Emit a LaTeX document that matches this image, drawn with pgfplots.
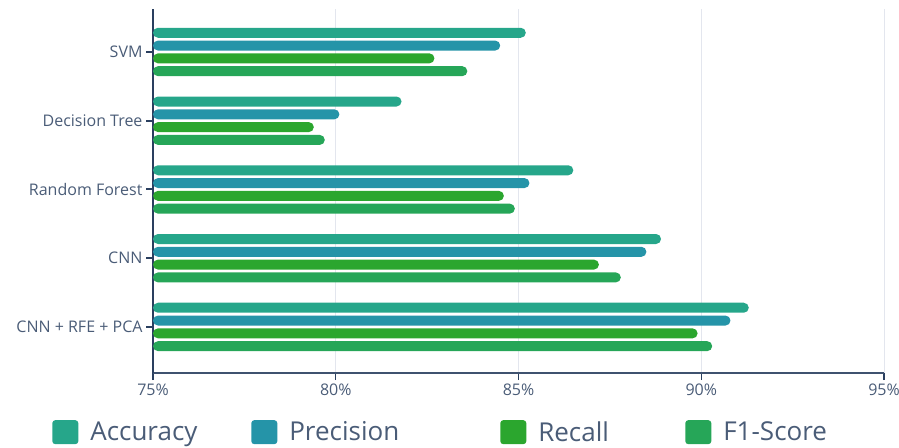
\documentclass[border=0pt]{standalone}
\usepackage{pgfplots}
\pgfplotsset{compat=1.18}
\usepackage{fontspec}
\setmainfont{Open Sans}
\definecolor{acc}{RGB}{38,166,138}
\definecolor{pre}{RGB}{37,148,168}
\definecolor{rec}{RGB}{43,166,46}
\definecolor{fone}{RGB}{38,166,88}
\definecolor{txt}{HTML}{2A3F5F}
\definecolor{gridc}{HTML}{E3E6EE}
\begin{document}
\begin{tikzpicture}
\useasboundingbox (0,0) rectangle (899pt,447pt);
\begin{axis}[
  at={(153pt,74pt)}, anchor=south west,
  scale only axis, width=731pt, height=364pt,
  xbar,
  xmin=75, xmax=95, ymin=-0.625, ymax=4.67, y dir=reverse,
  xtick={75,80,85,90,95},
  xticklabel={\pgfmathprintnumber{\tick}\%},
  ytick={0,1,2,3,4},
  yticklabels={SVM, Decision Tree, Random Forest, CNN, CNN + RFE + PCA},
  axis x line*=bottom, axis y line*=left,
  x axis line style={txt!90, line width=1.3pt, -},
  y axis line style={txt, line width=2.5pt, -},
  xmajorgrids, major grid style={gridc, line width=1pt},
  xtick style={txt, line width=1.3pt},
  ytick style={txt, line width=2pt},
  tick align=outside, major tick length=7pt,
  /pgf/number format/assume math mode=true,
  ticklabel style={font=\fontsize{16}{18}\selectfont, text=txt!85},
  legend columns=4,
  legend style={at={(axis description cs:-0.138,-0.1625)}, anchor=west, draw=none, fill=none, inner sep=0pt,
    font=\fontsize{26}{30}\selectfont, text=txt!85,
    nodes={inner sep=0pt},
    /tikz/every even column/.append style={column sep=14pt}},
  legend image code/.code={\fill[#1, rounded corners=3pt] (0pt,-12pt) rectangle (26pt,12pt);},
]
\addplot[fill=acc, draw=none, bar width=10pt, bar shift=19.2pt, rounded corners=5pt]
  coordinates {(85.2,0) (81.8,1) (86.5,2) (88.9,3) (91.3,4)};
\addlegendentry{\makebox[159pt][l]{\hspace*{12pt}Accuracy}}
\addplot[fill=pre, draw=none, bar width=10pt, bar shift=6.4pt, rounded corners=5pt]
  coordinates {(84.5,0) (80.1,1) (85.3,2) (88.5,3) (90.8,4)};
\addlegendentry{\makebox[209pt][l]{\hspace*{12pt}Precision}}
\addplot[fill=rec, draw=none, bar width=10pt, bar shift=-6.4pt, rounded corners=5pt]
  coordinates {(82.7,0) (79.4,1) (84.6,2) (87.2,3) (89.9,4)};
\addlegendentry{\makebox[145pt][l]{\hspace*{12pt}Recall}}
\addplot[fill=fone, draw=none, bar width=10pt, bar shift=-19.2pt, rounded corners=5pt]
  coordinates {(83.6,0) (79.7,1) (84.9,2) (87.8,3) (90.3,4)};
\addlegendentry{\hspace*{12pt}F1-Score}
\end{axis}
\end{tikzpicture}
\end{document}
